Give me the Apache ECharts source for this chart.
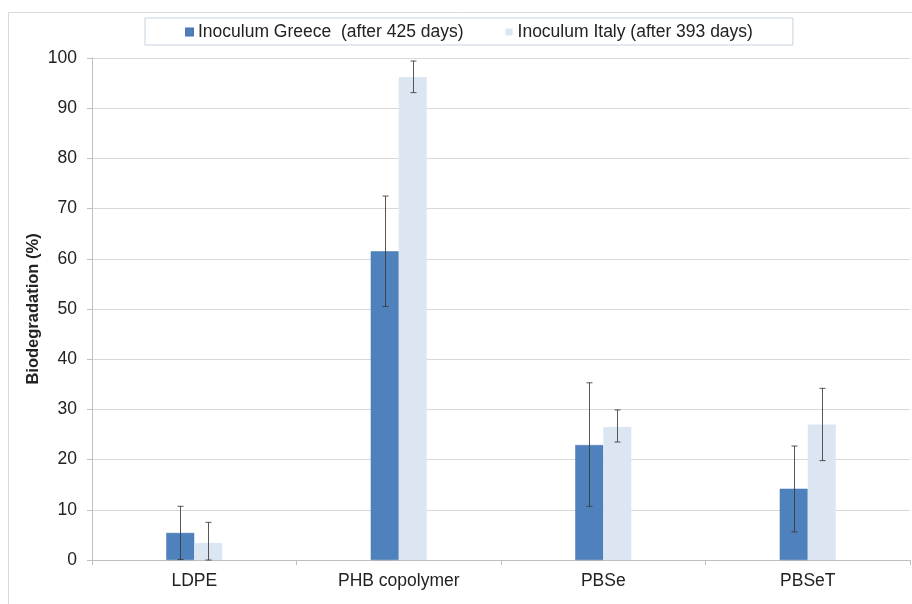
<!DOCTYPE html>
<html>
<head>
<meta charset="utf-8">
<script src="https://cdn.jsdelivr.net/npm/echarts@6/dist/echarts.min.js"></script>
<style>
html,body{margin:0;padding:0;background:#fff;}
#chart{width:912px;height:604px;}
</style>
</head>
<body>
<div id="chart"></div>
<script>
var categories = ['LDPE', 'PHB copolymer', 'PBSe', 'PBSeT'];
var seriesNames = ['Inoculum Greece  (after 425 days)', 'Inoculum Italy (after 393 days)'];
var greeceValues = [5.4, 61.5, 22.9, 14.2];
var greeceLow = [0.1, 50.5, 10.7, 5.6];
var greeceHigh = [10.7, 72.5, 35.3, 22.7];
var italyValues = [3.4, 96.2, 26.5, 27.0];
var italyLow = [0, 93.1, 23.5, 19.8];
var italyHigh = [7.5, 99.4, 29.9, 34.2];
var yTicks = [0, 10, 20, 30, 40, 50, 60, 70, 80, 90, 100];

var BAR_PCT = 0.137;
var colors = ['#4F81BD', '#DCE6F2'];

function errData(low, high) {
  return categories.map(function (c, i) { return [i, low[i], high[i]]; });
}
function errSeries(low, high, side) {
  return {
    type: 'custom',
    silent: true,
    z: 10,
    data: errData(low, high),
    renderItem: function (params, api) {
      var band = api.size([1, 0])[0];
      var off = side * band * BAR_PCT / 2;
      var lo = api.coord([api.value(0), api.value(1)]);
      var hi = api.coord([api.value(0), api.value(2)]);
      var x = Math.round(lo[0] + off) + 0.5;
      var cap = 3;
      var st = { stroke: '#3a3a3a', lineWidth: 1, opacity: 0.85 };
      return {
        type: 'group',
        children: [
          { type: 'line', shape: { x1: x, y1: hi[1], x2: x, y2: lo[1] }, style: st },
          { type: 'line', shape: { x1: x - cap, y1: hi[1], x2: x + cap, y2: hi[1] }, style: st },
          { type: 'line', shape: { x1: x - cap, y1: lo[1], x2: x + cap, y2: lo[1] }, style: st }
        ]
      };
    }
  };
}

var chart = echarts.init(document.getElementById('chart'));
chart.setOption({
  animation: false,
  textStyle: { fontFamily: 'Liberation Sans, Arial, sans-serif' },
  graphic: [
    { type: 'line', shape: { x1: 8.5, y1: 12.5, x2: 912, y2: 12.5 }, style: { stroke: '#d9d9d9', lineWidth: 1 } },
    { type: 'line', shape: { x1: 8.5, y1: 12.5, x2: 8.5, y2: 604 }, style: { stroke: '#d9d9d9', lineWidth: 1 } }
  ],
  legend: {
    data: seriesNames,
    left: 145,
    top: 18,
    padding: [5, 40, 4, 40],
    borderColor: '#c5d2e2',
    borderWidth: 1,
    itemWidth: 7,
    itemHeight: 7,
    itemGap: 42,
    icon: 'rect',
    textStyle: { fontSize: 17.5, color: '#222', fontFamily: 'Liberation Sans, Arial, sans-serif' }
  },
  grid: { left: 92, right: 2, top: 58, bottom: 44, containLabel: false },
  xAxis: {
    type: 'category',
    data: categories,
    axisLine: { lineStyle: { color: '#bfbfbf' } },
    axisTick: { show: true, length: 5, interval: 0, lineStyle: { color: '#bfbfbf' } },
    axisLabel: { fontSize: 17.5, color: '#222', margin: 12 }
  },
  yAxis: {
    type: 'value',
    min: 0,
    max: 100,
    interval: 10,
    name: 'Biodegradation (%)',
    nameLocation: 'middle',
    nameGap: 50,
    nameMoveOverlap: false,
    nameTextStyle: { fontSize: 16.5, fontWeight: 'bold', color: '#222' },
    axisLine: { show: true, lineStyle: { color: '#bfbfbf' } },
    axisTick: { show: true, length: 5, lineStyle: { color: '#bfbfbf' } },
    axisLabel: { fontSize: 17.5, color: '#222', margin: 15,
      formatter: function (v) { return yTicks.indexOf(v) >= 0 ? String(v) : ''; } },
    splitLine: { lineStyle: { color: '#d9d9d9' } }
  },
  series: [
    { name: seriesNames[0], type: 'bar', data: greeceValues, barWidth: '13.7%', barGap: '0%',
      itemStyle: { color: colors[0], borderColor: '#4a7ab3', borderWidth: 0.5 } },
    { name: seriesNames[1], type: 'bar', data: italyValues, barWidth: '13.7%', barGap: '0%',
      itemStyle: { color: colors[1] } },
    errSeries(greeceLow, greeceHigh, -1),
    errSeries(italyLow, italyHigh, 1)
  ]
});
</script>
</body>
</html>
